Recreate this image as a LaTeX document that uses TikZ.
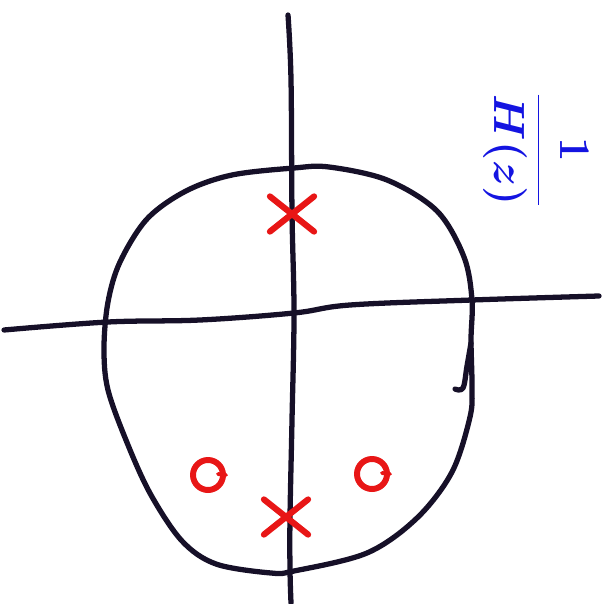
\documentclass[tikz,border=0pt]{standalone}
\usepackage{amsmath}
\usetikzlibrary{shapes.misc}
\definecolor{ink}{RGB}{22,16,40}
\definecolor{penred}{RGB}{232,22,22}
\definecolor{penblue}{RGB}{20,20,225}

\begin{document}
\begin{tikzpicture}[x=0.02cm,y=-0.02cm,
    stroke/.style={draw=ink,line width=3pt,line cap=round,line join=round},
    pole/.style={cross out,draw=penred,line width=3.5pt,line cap=round,inner sep=0pt,minimum width=0.76cm,minimum height=0.58cm},
    zero/.style={circle,draw=penred,line width=3.4pt,inner sep=0pt,minimum size=0.6cm},
    label/.style={text=penblue,font=\fontsize{36}{40}\selectfont\boldmath,rotate=-90}]
    \useasboundingbox (0,0) rectangle (603,604);
    % axes
    \draw[stroke] plot[smooth,tension=0.6] coordinates {(288,15) (291,80) (292,213) (294,313) (292,420) (290,517) (290,570) (291,603)};
    \draw[stroke] plot[smooth,tension=0.6] coordinates {(4,330) (108,322) (200,320) (294,313) (350,305) (472,300) (599,296)};
    % unit circle, drawn by hand
    \draw[stroke] plot[smooth cycle,tension=0.55] coordinates {(294,168) (329,167) (387,180) (437,211) (464,257) (472,300) (471,340) (472,387) (470,417) (452,472) (417,518) (367,553) (294,571) (271,573) (216,564) (182,541) (151,495) (128,445) (108,390) (104,348) (108,302) (120,262) (147,219) (186,191) (232,175)};
    \draw[stroke] plot[smooth,tension=0.6] coordinates {(471,343) (467,366) (463,388) (455,389)};
    % poles and zeros
    \node[pole] (p1) at (292,214) {};
    \node[pole] (p2) at (286,517) {};
    \node[zero] (z1) at (208,475) {};
    \node[zero] (z2) at (372,474) {};
    \draw[penred,line width=2.2pt,line cap=round] (z1.east) -- ++(-8,-1);
    \draw[penred,line width=2.2pt,line cap=round] (z2.east) -- ++(-8,-1);
    \node[label] (tf) at (536,150) {$\dfrac{1}{H(z)}$};
\end{tikzpicture}
\end{document}
